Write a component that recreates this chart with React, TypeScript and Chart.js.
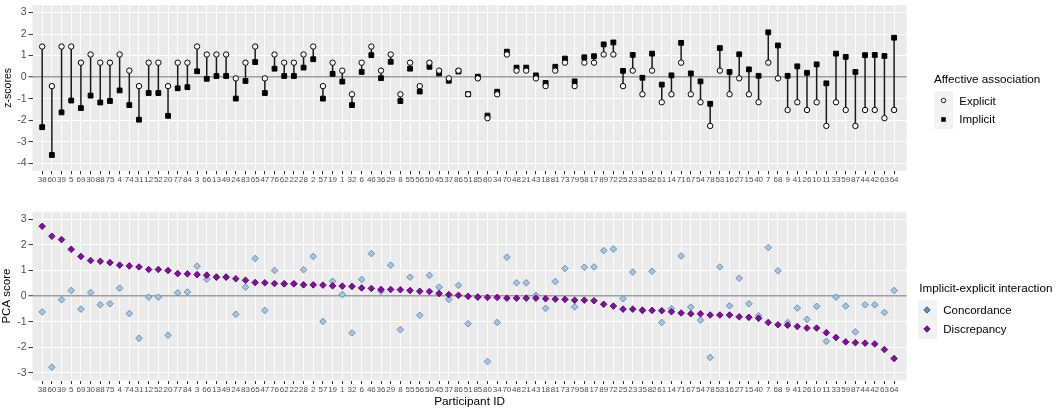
import React, { useEffect, useRef } from 'react';
import Chart from 'chart.js/auto';

// participants, in plotted order (sorted by discrepancy score)
const participantIds = [38, 60, 39, 5, 69, 30, 88, 75, 4, 74, 31, 12, 52, 20, 77, 84, 3, 66, 13, 49, 24, 83, 65, 47, 76, 62, 22, 28, 2, 57, 19, 1, 32, 6, 46, 36, 29, 8, 55, 56, 50, 45, 37, 86, 51, 85, 80, 34, 70, 48, 21, 43, 18, 81, 73, 79, 58, 17, 89, 72, 25, 23, 35, 82, 61, 14, 71, 67, 54, 78, 53, 16, 27, 15, 40, 7, 68, 9, 41, 26, 10, 11, 33, 59, 87, 44, 42, 63, 64];

const explicitScores = [1.42, -0.42, 1.42, 1.42, 0.67, 1.05, 0.67, 0.67, 1.05, 0.30, -0.42, 0.67, 0.67, -0.42, 0.67, 0.67, 1.42, 1.05, 1.05, 1.05, -0.06, 0.67, 1.42, -0.06, 1.05, 0.67, 0.67, 1.05, 1.42, -0.42, 0.67, 0.30, -0.80, 0.67, 1.42, 0.30, 1.05, -0.80, 0.67, -0.42, 0.67, 0.30, -0.06, 0.30, -0.80, -0.06, -1.91, -0.80, 1.05, 0.30, 0.30, -0.06, -0.42, 0.30, 0.67, -0.42, 0.67, 0.67, 1.05, 1.05, -0.42, 0.30, -0.80, 0.30, -1.17, -0.80, 0.67, -0.80, -1.17, -2.27, 0.30, -0.80, -0.06, -0.80, -1.17, 0.67, -0.06, -1.53, -1.17, -1.53, -1.17, -2.27, -1.17, -1.53, -2.27, -1.53, -1.53, -1.91, -1.53];

const implicitScores = [-2.33, -3.62, -1.64, -1.09, -1.44, -0.86, -1.18, -1.11, -0.62, -1.30, -1.98, -0.74, -0.74, -1.80, -0.52, -0.47, 0.27, -0.08, 0.05, 0.05, -1.00, -0.18, 0.70, -0.74, 0.39, 0.05, 0.05, 0.44, 0.83, -1.00, 0.15, -0.21, -1.30, 0.24, 1.02, -0.05, 0.71, -1.11, 0.39, -0.67, 0.48, 0.17, -0.17, 0.26, -0.79, 0.02, -1.79, -0.68, 1.18, 0.44, 0.44, 0.08, -0.27, 0.48, 0.86, -0.20, 0.92, 0.97, 1.52, 1.61, 0.29, 1.03, -0.03, 1.09, -0.35, 0.08, 1.59, 0.17, -0.20, -1.24, 1.35, 0.24, 1.06, 0.36, 0.06, 2.08, 1.47, 0.06, 0.50, 0.20, 0.59, -0.29, 1.09, 0.94, 0.24, 1.02, 1.03, 0.98, 1.83];

const concordanceScores = [-0.62, -2.78, -0.14, 0.22, -0.51, 0.14, -0.34, -0.30, 0.31, -0.68, -1.65, -0.04, -0.04, -1.53, 0.13, 0.16, 1.17, 0.66, 0.75, 0.75, -0.71, 0.35, 1.47, -0.56, 1.00, 0.48, 0.48, 1.03, 1.55, -0.99, 0.58, 0.06, -1.44, 0.65, 1.66, 0.19, 1.21, -1.31, 0.74, -0.75, 0.81, 0.35, -0.13, 0.42, -1.08, -0.03, -2.56, -1.03, 1.52, 0.52, 0.52, 0.03, -0.48, 0.57, 1.08, -0.42, 1.13, 1.14, 1.78, 1.84, -0.10, 0.94, -0.57, 0.97, -1.03, -0.49, 1.57, -0.43, -0.94, -2.40, 1.14, -0.38, 0.70, -0.30, -0.77, 1.90, 0.99, -1.03, -0.47, -0.91, -0.40, -1.77, -0.04, -0.39, -1.40, -0.34, -0.34, -0.64, 0.22];

const discrepancyScores = [2.73, 2.34, 2.21, 1.83, 1.55, 1.39, 1.36, 1.31, 1.21, 1.18, 1.14, 1.04, 1.04, 1.00, 0.88, 0.87, 0.84, 0.82, 0.74, 0.74, 0.68, 0.62, 0.53, 0.52, 0.49, 0.48, 0.48, 0.44, 0.44, 0.43, 0.40, 0.39, 0.38, 0.32, 0.30, 0.26, 0.26, 0.25, 0.22, 0.19, 0.18, 0.10, 0.06, 0.03, -0.01, -0.04, -0.05, -0.05, -0.08, -0.08, -0.08, -0.08, -0.10, -0.12, -0.13, -0.16, -0.16, -0.18, -0.32, -0.39, -0.51, -0.51, -0.55, -0.56, -0.57, -0.61, -0.66, -0.69, -0.69, -0.74, -0.74, -0.74, -0.81, -0.83, -0.87, -1.03, -1.12, -1.14, -1.19, -1.25, -1.25, -1.43, -1.62, -1.79, -1.82, -1.84, -1.87, -2.09, -2.44];

const FONT = "'Liberation Sans', Arial, Helvetica, sans-serif";
const CLEAR = 'rgba(0,0,0,0)';

const isWhole = (v: number) => Math.abs(v - Math.round(v)) < 1e-6;
const isParticipant = (v: any) => typeof v === 'number' && isWhole(v) && v >= 1 && v <= participantIds.length;

// grey ggplot-like panel behind the grid
const panelBackground = {
  id: 'panelBackground',
  beforeDraw(chart: any) {
    const { ctx, chartArea } = chart;
    if (!chartArea) return;
    ctx.save();
    ctx.fillStyle = '#EBEBEB';
    ctx.fillRect(chartArea.left, chartArea.top, chartArea.right - chartArea.left, chartArea.bottom - chartArea.top);
    ctx.restore();
  },
};

function makeXScale(height: number, title: string | null) {
  return {
    type: 'linear',
    min: 0,
    max: participantIds.length + 1.3,
    border: { display: false },
    grid: {
      color: (c: any) => (c.tick && isParticipant(c.tick.value) ? '#FFFFFF' : CLEAR),
      lineWidth: 0.9,
      tickColor: (c: any) => (c.tick && isParticipant(c.tick.value) ? '#333333' : CLEAR),
      tickLength: 3.5,
      tickWidth: 1,
    },
    ticks: {
      stepSize: 1,
      autoSkip: false,
      includeBounds: false,
      maxRotation: 0,
      minRotation: 0,
      padding: 1,
      color: '#4D4D4D',
      font: { family: FONT, size: 8 },
      callback: (v: any) => (isParticipant(v) ? String(participantIds[Math.round(v) - 1]) : ''),
    },
    title: title
      ? { display: true, text: title, color: '#000000', font: { family: FONT, size: 11.8 }, padding: { top: 0, bottom: 1.4 } }
      : { display: false },
    afterFit: (s: any) => {
      s.height = height;
      s.paddingLeft = 0;
      s.paddingRight = 0;
    },
  };
}

function makeYScale(min: number, max: number, title: string, titleSize: number, titlePad: number) {
  return {
    type: 'linear',
    min,
    max,
    border: { display: false },
    grid: {
      color: (c: any) => (c.tick && c.tick.value === 0 ? '#9E9E9E' : '#FFFFFF'),
      lineWidth: (c: any) => {
        if (!c.tick) return 1;
        if (c.tick.value === 0) return 1.5;
        return isWhole(c.tick.value) ? 1.1 : 0.5;
      },
      tickColor: (c: any) => (c.tick && isWhole(c.tick.value) ? '#333333' : CLEAR),
      tickLength: 4,
      tickWidth: 1,
    },
    ticks: {
      stepSize: 0.5,
      includeBounds: false,
      padding: 2,
      color: '#4D4D4D',
      font: { family: FONT, size: 10.5 },
      callback: (v: any) => (isWhole(v) ? String(Math.round(v)) : ''),
    },
    title: { display: true, text: title, color: '#000000', font: { family: FONT, size: titleSize }, padding: { top: titlePad, bottom: 0 } },
    afterFit: (s: any) => {
      s.width = 32.5;
      s.paddingTop = 0;
      s.paddingBottom = 0;
    },
  };
}

const textStyle: React.CSSProperties = {
  position: 'absolute',
  fontFamily: FONT,
  color: '#000000',
  whiteSpace: 'nowrap',
  lineHeight: '14px',
};

const keyStyle = (left: number, top: number, w: number, h: number): React.CSSProperties => ({
  position: 'absolute',
  left,
  top,
  width: w,
  height: h,
  background: '#F2F2F2',
  display: 'flex',
  alignItems: 'center',
  justifyContent: 'center',
});

const Diamond = ({ fill, stroke }: { fill: string; stroke: string }) => (
  <svg width="8" height="8" viewBox="0 0 8 8">
    <polygon points="4,0.8 7.2,4 4,7.2 0.8,4" fill={fill} stroke={stroke} strokeWidth="0.8" />
  </svg>
);

export default function App() {
  const topRef = useRef<HTMLCanvasElement>(null);
  const bottomRef = useRef<HTMLCanvasElement>(null);

  useEffect(() => {
    if (!topRef.current || !bottomRef.current) return;

    const xs = participantIds.map((_, i) => i + 1);
    const segments = xs.flatMap((x, i) => [
      { x, y: explicitScores[i] },
      { x, y: implicitScores[i] },
      { x, y: null },
    ]);

    const topChart = new Chart(topRef.current, {
      type: 'scatter',
      data: {
        datasets: [
          {
            label: 'Explicit',
            data: xs.map((x, i) => ({ x, y: explicitScores[i] })),
            pointStyle: 'circle',
            pointRadius: 2.7,
            pointBackgroundColor: '#FFFFFF',
            pointBorderColor: '#000000',
            pointBorderWidth: 1,
            order: 0,
          },
          {
            label: 'Implicit',
            data: xs.map((x, i) => ({ x, y: implicitScores[i] })),
            pointStyle: 'rect',
            pointRadius: 3.4,
            pointBackgroundColor: '#000000',
            pointBorderColor: '#000000',
            pointBorderWidth: 1,
            order: 1,
          },
          {
            label: 'segments',
            data: segments as any,
            showLine: true,
            spanGaps: false,
            pointRadius: 0,
            borderColor: '#1A1A1A',
            borderWidth: 1.5,
            order: 2,
          },
        ],
      },
      options: {
        animation: false,
        responsive: true,
        maintainAspectRatio: false,
        events: [],
        layout: { padding: { left: 0, right: 151.3, top: 2, bottom: 0 } },
        plugins: { legend: { display: false }, tooltip: { enabled: false } },
        scales: {
          x: makeXScale(29.3, null) as any,
          y: makeYScale(-4.35, 3.35, 'z-scores', 10.5, 1.5) as any,
        },
      },
      plugins: [panelBackground],
    });

    const bottomChart = new Chart(bottomRef.current, {
      type: 'scatter',
      data: {
        datasets: [
          {
            label: 'Discrepancy',
            data: xs.map((x, i) => ({ x, y: discrepancyScores[i] })),
            pointStyle: 'rectRot',
            pointRadius: 3.3,
            pointBackgroundColor: '#8B0AA8',
            pointBorderColor: '#3A0048',
            pointBorderWidth: 0.8,
            order: 0,
          },
          {
            label: 'Concordance',
            data: xs.map((x, i) => ({ x, y: concordanceScores[i] })),
            pointStyle: 'rectRot',
            pointRadius: 3.3,
            pointBackgroundColor: '#A2C7EA',
            pointBorderColor: '#58799B',
            pointBorderWidth: 0.8,
            order: 1,
          },
        ],
      },
      options: {
        animation: false,
        responsive: true,
        maintainAspectRatio: false,
        events: [],
        layout: { padding: { left: 0, right: 151.3, top: 11.7, bottom: 0 } },
        plugins: { legend: { display: false }, tooltip: { enabled: false } },
        scales: {
          x: makeXScale(29.5, 'Participant ID') as any,
          y: makeYScale(-3.3, 3.3, 'PCA score', 11.5, 0) as any,
        },
      },
      plugins: [panelBackground],
    });

    return () => {
      topChart.destroy();
      bottomChart.destroy();
    };
  }, []);

  return (
    <div style={{ position: 'absolute', left: 0, top: 0, width: 1058, height: 410, background: '#FFFFFF', overflow: 'hidden' }}>
      <div style={{ position: 'absolute', left: 0, top: 0, width: 1058, height: 200 }}>
        <canvas ref={topRef} />
      </div>
      <div style={{ position: 'absolute', left: 0, top: 200, width: 1058, height: 210 }}>
        <canvas ref={bottomRef} />
      </div>

      {/* top legend */}
      <div style={{ ...textStyle, left: 934, top: 72, fontSize: 11.7 }}>Affective association</div>
      <div style={keyStyle(934, 91.4, 18.5, 18.6)}>
        <svg width="7" height="7" viewBox="0 0 7 7">
          <circle cx="3.5" cy="3.5" r="2.2" fill="#FFFFFF" stroke="#000000" strokeWidth="0.9" />
        </svg>
      </div>
      <div style={keyStyle(934, 110, 18.5, 18.6)}>
        <svg width="7" height="7" viewBox="0 0 7 7">
          <rect x="1.2" y="1.2" width="4.6" height="4.6" fill="#000000" />
        </svg>
      </div>
      <div style={{ ...textStyle, left: 959.3, top: 93.7, fontSize: 11.5 }}>Explicit</div>
      <div style={{ ...textStyle, left: 959.3, top: 112.3, fontSize: 11.5 }}>Implicit</div>

      {/* bottom legend */}
      <div style={{ ...textStyle, left: 919.3, top: 281.3, fontSize: 11.7 }}>Implicit-explicit interaction</div>
      <div style={keyStyle(918, 300.4, 18.7, 19.3)}>
        <Diamond fill="#4F94D4" stroke="#1F3F5F" />
      </div>
      <div style={keyStyle(918, 319.7, 18.7, 19.3)}>
        <Diamond fill="#8E0BB0" stroke="#2F0040" />
      </div>
      <div style={{ ...textStyle, left: 943.3, top: 303, fontSize: 11.5 }}>Concordance</div>
      <div style={{ ...textStyle, left: 943.3, top: 322.3, fontSize: 11.5 }}>Discrepancy</div>
    </div>
  );
}
